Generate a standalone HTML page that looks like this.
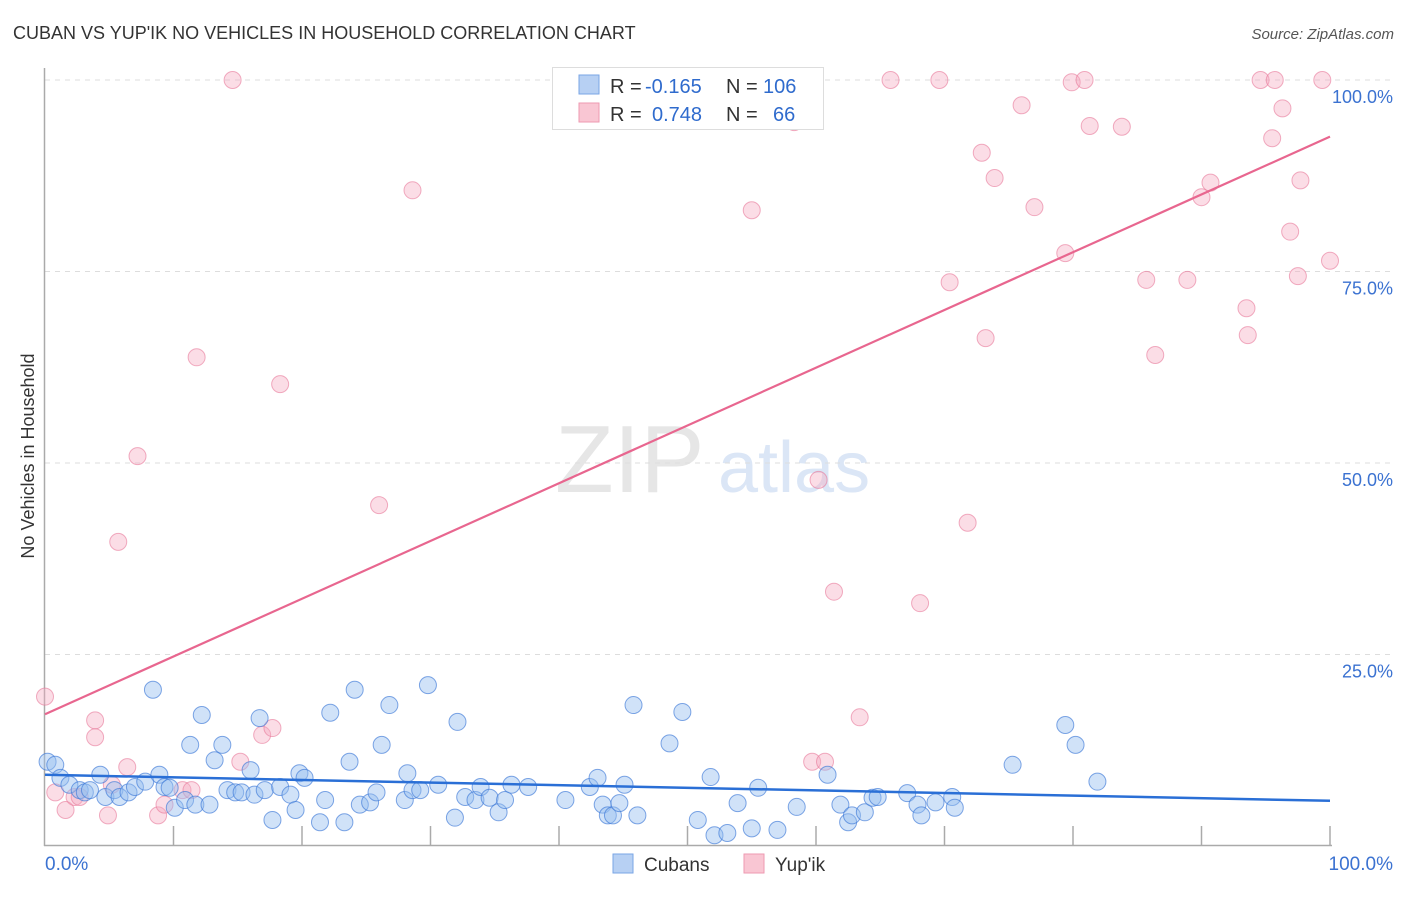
<!DOCTYPE html>
<html><head><meta charset="utf-8"><style>
body{margin:0;background:#fff;font-family:"Liberation Sans",sans-serif;}
svg text{font-family:"Liberation Sans",sans-serif;}
</style></head><body>
<svg id="chart" width="1406" height="892" xmlns="http://www.w3.org/2000/svg">
<text x="13" y="39" font-size="18" fill="#333">CUBAN VS YUP'IK NO VEHICLES IN HOUSEHOLD CORRELATION CHART</text>
<text x="1394" y="39" font-size="15" fill="#555" font-style="italic" text-anchor="end">Source: ZipAtlas.com</text>
<text transform="translate(34,456) rotate(-90)" font-size="18" fill="#333" text-anchor="middle">No Vehicles in Household</text>
<g><text x="555" y="492" font-size="96" fill="#e6e6e6" font-family="Liberation Serif">ZIP</text><text x="718" y="492" font-size="72" fill="#dbe6f6">atlas</text></g>
<g id="grid"></g>
<g id="axes"></g>
<g id="pts"></g>
<g id="lines"></g>
<g>
<rect x="552.5" y="67.5" width="271" height="62" fill="#fff" stroke="#ddd"/>
<rect x="579" y="75" width="20" height="19" fill="#b7d0f3" stroke="#7aa6e6"/>
<rect x="579" y="103" width="20" height="19" fill="#f9c6d3" stroke="#ee9ab1"/>
<text x="610" y="93" font-size="20" fill="#333">R =</text><text x="645" y="93" font-size="20" fill="#2f6bcd">-0.165</text>
<text x="726" y="93" font-size="20" fill="#333">N =</text><text x="763" y="93" font-size="20" fill="#2f6bcd">106</text>
<text x="610" y="121" font-size="20" fill="#333">R =</text><text x="652" y="121" font-size="20" fill="#2f6bcd">0.748</text>
<text x="726" y="121" font-size="20" fill="#333">N =</text><text x="773" y="121" font-size="20" fill="#2f6bcd">66</text>
</g>
<g>
<rect x="613" y="854" width="20" height="19" fill="#b7d0f3" stroke="#7aa6e6"/>
<text x="644" y="871" font-size="19" fill="#333">Cubans</text>
<rect x="744" y="854" width="20" height="19" fill="#f9c6d3" stroke="#ee9ab1"/>
<text x="775" y="871" font-size="19" fill="#333">Yup'ik</text>
</g>
</svg>
<script>
const xTickLabels=["0.0%","100.0%"];
const yTicks=[25,50,75,100];
const yTickLabels=["25.0%","50.0%","75.0%","100.0%"];
const bluePx=[[48,762],[55,765],[60,778],[70,785],[80,790],[85,792],[90,790],[100,775],[105,797],[115,790],[120,797],[128,792],[135,787],[145,782],[153,690],[160,775],[165,787],[170,788],[175,808],[185,800],[190,745],[195,805],[202,715],[210,805],[215,760],[222,745],[228,790],[235,792],[242,792],[250,770],[255,795],[260,718],[265,790],[272,820],[280,787],[290,795],[295,810],[300,773],[305,778],[320,822],[325,800],[330,713],[345,822],[350,762],[355,690],[360,805],[370,802],[376,792],[382,745],[390,705],[405,800],[408,773],[412,790],[420,790],[428,685],[438,785],[455,818],[457,722],[465,797],[475,800],[480,787],[490,798],[498,812],[505,800],[512,785],[528,787],[565,800],[590,787],[598,778],[603,805],[608,815],[613,815],[620,803],[625,785],[633,705],[637,815],[670,743],[682,712],[698,820],[710,777],[715,835],[727,833],[738,803],[752,828],[758,788],[777,830],[797,807],[827,775],[840,805],[848,822],[852,815],[865,812],[873,798],[878,797],[907,793],[917,805],[921,815],[935,802],[952,797],[955,808],[1012,765],[1065,725],[1075,745],[1097,782]];
const pinkPx=[[45,697],[55,792],[65,810],[75,797],[80,797],[95,720],[95,737],[112,785],[108,815],[118,542],[127,767],[138,456],[158,815],[165,805],[182,790],[192,790],[197,357],[233,80],[240,762],[262,735],[272,728],[280,384],[379,505],[413,190],[752,210],[794,122],[812,762],[818,480],[825,762],[834,592],[860,717],[890,80],[920,603],[940,80],[950,282],[968,523],[982,153],[986,338],[995,178],[1022,105],[1035,207],[1065,253],[1072,82],[1085,80],[1090,126],[1122,127],[1146,280],[1155,355],[1188,280],[1202,197],[1210,183],[1246,308],[1248,335],[1260,80],[1275,80],[1282,108],[1272,138],[1290,232],[1298,276],[1301,180],[1322,80],[1330,261],[576,80]];
// data values (percent) derived from reading the image
const cubanX=bluePx.map(p=>+((p[0]-45)/12.85).toFixed(1));
const cubanY=bluePx.map(p=>+((846-p[1])/7.66).toFixed(1));
const yupikX=pinkPx.map(p=>+((p[0]-45)/12.85).toFixed(1));
const yupikY=pinkPx.map(p=>+((846-p[1])/7.66).toFixed(1));
const cubanTrend=[9.3,5.9];
const yupikTrend=[17.2,92.6];
const NS="http://www.w3.org/2000/svg";
const X0=45,X1=1330,Y0=846,Y100=80;
const sx=v=>X0+(X1-X0)*v/100, sy=v=>Y0-(Y0-Y100)*v/100;
function mk(tag,attrs,parent){const e=document.createElementNS(NS,tag);for(const k in attrs)e.setAttribute(k,attrs[k]);document.getElementById(parent).appendChild(e);return e;}
yTicks.forEach((t,i)=>{
 const l=mk('line',{x1:45,x2:1395,y1:sy(t),y2:sy(t),stroke:'#ddd','stroke-dasharray':'5,5'},'grid');
 
 
 const tx=mk('text',{x:1393,y:sy(t)+23,'font-size':18,fill:'#3b72d1','text-anchor':'end'},'grid');tx.textContent=yTickLabels[i];
 
 
});
let ax=mk('line',{x1:44.5,x2:44.5,y1:68,y2:846,stroke:'#aaa','stroke-width':1.5},'axes');


ax=mk('line',{x1:44,x2:1332,y1:845.5,y2:845.5,stroke:'#aaa','stroke-width':1.5},'axes');


for(let i=1;i<=10;i++){const x=sx(i*10);const t=mk('line',{x1:x,x2:x,y1:826,y2:846,stroke:'#aaa','stroke-width':1.5},'axes');
 
 }
let xl=mk('text',{x:45,y:870,'font-size':19,fill:'#3b72d1'},'axes');xl.textContent=xTickLabels[0];


xl=mk('text',{x:1393,y:870,'font-size':19,fill:'#3b72d1','text-anchor':'end'},'axes');xl.textContent=xTickLabels[1];


yupikX.forEach((v,i)=>{const c=mk('circle',{cx:sx(v),cy:sy(yupikY[i]),r:8.5,fill:'rgba(246,170,192,0.4)',stroke:'rgba(232,120,154,0.6)'},'pts');
 
 });
cubanX.forEach((v,i)=>{const c=mk('circle',{cx:sx(v),cy:sy(cubanY[i]),r:8.5,fill:'rgba(150,190,240,0.45)',stroke:'rgba(60,120,215,0.65)'},'pts');
 
 });
let tl=mk('line',{x1:sx(0),x2:sx(100),y1:sy(yupikTrend[0]),y2:sy(yupikTrend[1]),stroke:'#e8668f','stroke-width':2.2},'lines');


tl=mk('line',{x1:sx(0),x2:sx(100),y1:sy(cubanTrend[0]),y2:sy(cubanTrend[1]),stroke:'#2a6fd6','stroke-width':2.5},'lines');


</script>
</body></html>
